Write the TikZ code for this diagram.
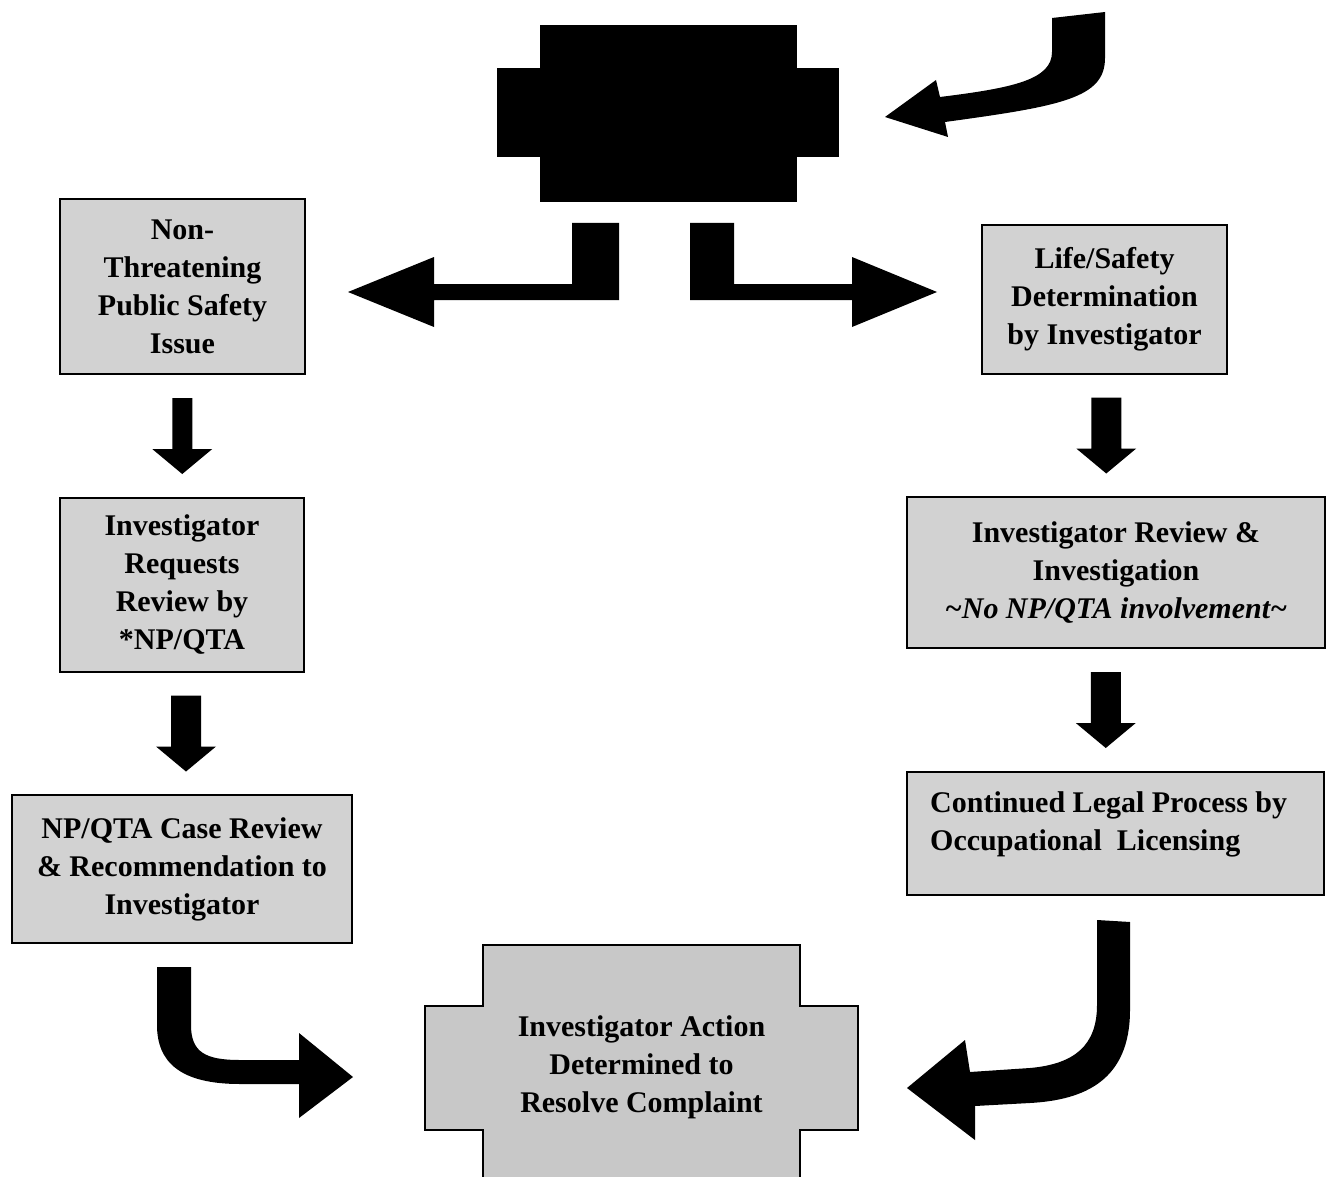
\documentclass[tikz,border=0pt]{standalone}
\usepackage{fontspec}
\setmainfont{Liberation Serif}
\usetikzlibrary{calc}
\definecolor{boxgray}{RGB}{210,210,210}
\definecolor{crossgray}{RGB}{200,200,200}
\newcommand\boxfont{\fontsize{30}{38}\selectfont\bfseries}
\tikzset{
  box/.style={draw=black, line width=1.6pt, fill=boxgray, inner sep=0pt, align=center, font=\boxfont},
  txt/.style={inner sep=0pt, align=center, font=\boxfont},
  blockarrow/.style={fill=black},
  pics/downblk/.style={code={\fill[black] (-#1,-38) -- (#1,-38) -- (#1,13) -- (30,13) -- (0,38) -- (-30,13) -- (-#1,13) -- cycle;}}
}
\begin{document}
\begin{tikzpicture}[x=1pt,y=-1pt]
\useasboundingbox (0,0) rectangle (1328,1177);
\fill[white] (0,0) rectangle (1328,1177);

% redacted top node (black cross)
\node[fill=black, inner sep=0pt, minimum width=257pt, minimum height=177pt] (top) at (668,113.5) {};
\fill[black] (497,68) rectangle (839,157);

% incoming curved arrow at top right
\fill[black] (1052,18) -- (1105,12) -- (1105,58)
  .. controls (1105,98) and (1062,106) .. (945,122)
  -- (948,137) -- (885,117) -- (936,80) -- (940,97)
  .. controls (1012,88) and (1052,80) .. (1052,52) -- cycle;

% boxes
\node[box, minimum width=245pt, minimum height=175pt] (b1) at (182.5,286.5) {Non-\\Threatening\\Public Safety\\Issue};
\node[box, minimum width=245pt, minimum height=149pt] (b2) at (1104.5,299.5) {Life/Safety\\Determination\\by Investigator};
\node[box, minimum width=244pt, minimum height=174pt] (b3) at (182,585) {Investigator\\Requests\\Review by\\*NP/QTA};
\node[box, minimum width=418pt, minimum height=151pt] (b4) at (1116,572.5) {Investigator Review \&\\Investigation\\\textit{\textasciitilde No NP/QTA involvement\textasciitilde}};
\node[box, minimum width=340pt, minimum height=148pt] (b5) at (182,869) {NP/QTA Case Review\\\& Recommendation to\\Investigator};
\node[box, minimum width=417pt, minimum height=123pt] (b6) at (1115.5,833.5) {};
\node[txt, align=left, anchor=west] (b6t) at (930,824) {Continued Legal Process by\\Occupational\ \ Licensing};

% bottom cross node
\filldraw[fill=crossgray, draw=black, line width=1.6pt]
  (483,1200) -- (483,1130) -- (425,1130) -- (425,1006) -- (483,1006) -- (483,945)
  -- (800,945) -- (800,1006) -- (858,1006) -- (858,1130) -- (800,1130) -- (800,1200);
\node[txt] (res) at (641.5,1067) {Investigator Action\\Determined to\\Resolve Complaint};

% L-shaped split arrows from the top node
\fill[blockarrow] (572,223) -- (619,223) -- (619,300) -- (434,300) -- (434,327)
  -- (348,292) -- (434,257) -- (434,284) -- (572,284) -- cycle;
\fill[blockarrow] (690,223) -- (734,223) -- (734,284) -- (852,284) -- (852,257)
  -- (937,292) -- (852,327) -- (852,300) -- (690,300) -- cycle;

% straight down arrows
\pic at ($(b1.south)!0.5!(b3.north)$) {downblk=10};
\pic at ($(b3.south)!0.5!(b5.north)+(4,0)$) {downblk=15};
\pic at ($(b2.south)!0.5!(b4.north)+(-4,0)$) {downblk=15};
\pic at ($(b4.south)!0.5!(b6.north)+(-10,0)$) {downblk=15};

% curved arrows into the bottom node
\fill[blockarrow] (157,967) -- (191,967) -- (191,1025)
  .. controls (191,1052) and (205,1060) .. (240,1060) -- (299,1060) -- (299,1033)
  -- (353,1077) -- (299,1118) -- (299,1084) -- (240,1084)
  .. controls (180,1084) and (157,1062) .. (157,1025) -- cycle;
\fill[blockarrow] (1097,920) -- (1130,922) -- (1130,1010)
  .. controls (1130,1080) and (1085,1100) .. (1030,1103) -- (975,1106) -- (975,1140)
  -- (907,1088) -- (965,1040) -- (970,1072) -- (1030,1068)
  .. controls (1075,1064) and (1097,1045) .. (1097,1005) -- cycle;
\end{tikzpicture}
\end{document}
